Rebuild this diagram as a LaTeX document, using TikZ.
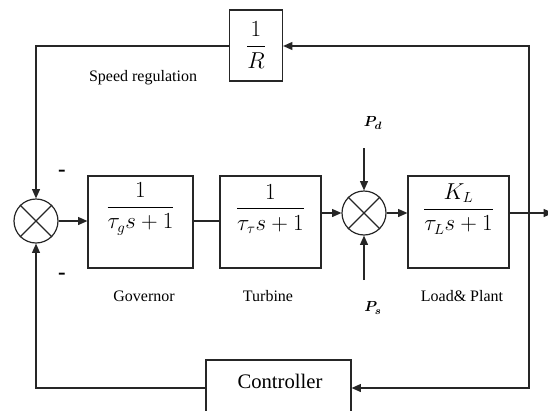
\documentclass[tikz,border=0pt]{standalone}
\usepackage{fontspec}
\setmainfont{Liberation Serif}
\usepackage{amsmath}
\usetikzlibrary{arrows.meta}
\tikzset{
  wire/.style={line width=0.9pt, draw=black!85},
  arr/.style={wire, -{Triangle[length=7pt,width=6pt]}},
  blk/.style={draw=black!85, line width=0.9pt, rectangle, inner sep=0pt},
  sumj/.style={draw=black!85, line width=0.9pt, circle, minimum size=33pt, inner sep=0pt},
  lbl/.style={font=\fontsize{12}{14}\selectfont, inner sep=0pt},
  tf/.style={font=\fontsize{16}{18}\selectfont, inner sep=0pt},
  minus/.style={font=\bfseries\fontsize{17}{18}\selectfont, inner sep=0pt},
}
\begin{document}
\begin{tikzpicture}[x=0.75pt,y=-0.75pt]
\useasboundingbox (0,0) rectangle (548,410);
\clip (0,0) rectangle (548,410);
% blocks
\node[blk, minimum width=39.75pt, minimum height=53.25pt] (rb) at (256,45.5) {};
\node[tf, font=\fontsize{17}{19}\selectfont] (rbt) at (256,45) {$\dfrac{1}{R}$};
\node[blk, minimum width=78.75pt, minimum height=69pt] (gov) at (140.5,222) {};
\node[tf] (govt) at (140.5,209) {$\dfrac{1}{\tau_g s+1}$};
\node[blk, minimum width=75.75pt, minimum height=69pt] (tur) at (270.5,222) {};
\node[tf] (turt) at (270.5,209) {$\dfrac{1}{\tau_\tau s+1}$};
\node[blk, minimum width=75.75pt, minimum height=69pt] (load) at (458.5,222) {};
\node[tf] (loadt) at (458.5,209) {$\dfrac{K_L}{\tau_L s+1}$};
\node[blk, minimum width=108.75pt, minimum height=60pt] (ctrl) at (278.5,400) {};
\node[font=\fontsize{15.5}{18}\selectfont, inner sep=0pt] (ctrlt) at (280,381) {Controller};
% junctions
\node[sumj] (j1) at (36,221) {};
\draw[wire] (j1.north east) -- (j1.south west) (j1.north west) -- (j1.south east);
\node[sumj] (j2) at (364,213) {};
\draw[wire] (j2.north east) -- (j2.south west) (j2.north west) -- (j2.south east);
% coordinates
\coordinate (tr) at (529,46);
\coordinate (tl) at (36,46);
\coordinate (br) at (529,388);
\coordinate (bl) at (36,388);
\coordinate (split) at (529,213);
\coordinate (out) at (553,213);
\coordinate (pd) at (364,148);
\coordinate (ps) at (364,280);
% connectors
\draw[arr] (j1.east) -- (j1.east -| gov.west);
\draw[wire] (gov.east |- 0,221) -- (tur.west |- 0,221);
\draw[arr] (tur.east |- j2) -- (j2.west);
\draw[arr] (j2.east) -- (j2.east -| load.west);
\draw[arr] (load.east |- j2) -- (out);
\draw[arr] (split) -- (tr) -- (rb.east |- tr);
\draw[arr] (rb.west |- tl) -- (tl) -- (j1.north);
\draw[arr] (split) -- (br) -- (ctrl.east |- br);
\draw[arr] (ctrl.west |- bl) -- (bl) -- (j1.south);
\draw[arr] (pd) -- (j2.north);
\draw[arr] (ps) -- (j2.south);
% labels
\node[lbl] (sr) at (143,78) {Speed regulation};
\node[lbl] (gl) at (144,296) {Governor};
\node[lbl] (tl2) at (268,296) {Turbine};
\node[lbl] (ll) at (462,296) {Load\& Plant};
\node[tf, font=\fontsize{11}{13}\selectfont] (pdl) at (373,123) {$\boldsymbol{P_d}$};
\node[tf, font=\fontsize{11}{13}\selectfont] (psl) at (373,308) {$\boldsymbol{P_s}$};
\node[minus] (m1) at (62,173) {-};
\node[minus] (m2) at (62,276) {-};
\end{tikzpicture}
\end{document}
